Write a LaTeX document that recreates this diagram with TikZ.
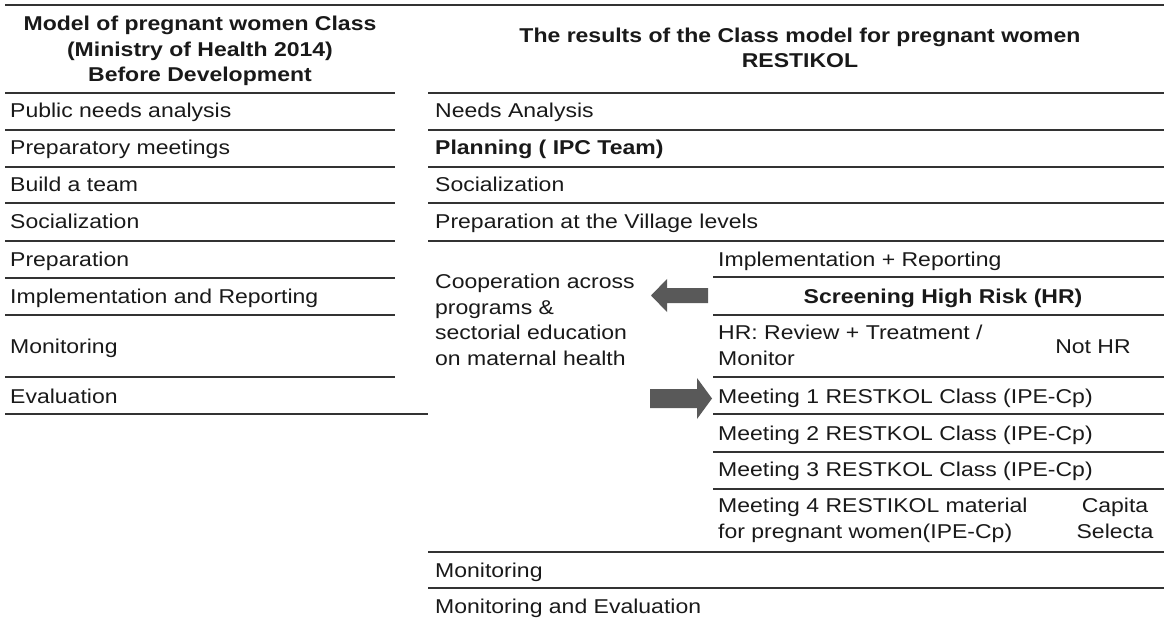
\documentclass[tikz,border=0pt]{standalone}
\usepackage{fontspec}
\setmainfont{Liberation Sans}[FakeStretch=1.15]
\usepackage{tikz}
\usetikzlibrary{positioning}

\tikzset{
  cell/.style={anchor=base west, inner sep=0pt, font=\fontsize{20}{25.5}\selectfont, text=black!90},
  mid/.style={cell, anchor=base, align=center},
  head/.style={mid, font=\fontsize{20}{25.5}\selectfont\bfseries},
  rule/.style={line width=1.6pt, black!80},
  fatarrow/.style={fill=black!65},
}

\begin{document}
\begin{tikzpicture}[x=1pt, y=-1pt]
    \useasboundingbox (0,0) rectangle (1164,620);
    % rules
    \draw[rule] (5,5) -- (1164,5);
    \foreach \y in {93,130,167,203,241,278,315,377}
        \draw[rule] (5,\y) -- (395,\y);
    \draw[rule] (5,414) -- (428,414);
    \foreach \y in {93,130,167,203,241,552,588}
        \draw[rule] (428,\y) -- (1164,\y);
    \foreach \y in {277,315,377,414,452,489}
        \draw[rule] (713,\y) -- (1164,\y);
    % headers (multi-line nodes sit on their last line)
    \node[head] (hbefore) at (200,82) {Model of pregnant women Class\\(Ministry of Health 2014)\\Before Development};
    \node[head] (hafter) at (800,68) {The results of the Class model for pregnant women\\RESTIKOL};
    % before development
    \node[cell] (old1) at (10,118) {Public needs analysis};
    \node[cell] (old2) at (10,155) {Preparatory meetings};
    \node[cell] (old3) at (10,192) {Build a team};
    \node[cell] (old4) at (10,229) {Socialization};
    \node[cell] (old5) at (10,266) {Preparation};
    \node[cell] (old6) at (10,303) {Implementation and Reporting};
    \node[cell] (old7) at (10,353) {Monitoring};
    \node[cell] (old8) at (10,403) {Evaluation};
    % restikol
    \node[cell] (new1) at (435,118) {Needs Analysis};
    \node[cell, font=\fontsize{20}{25.5}\selectfont\bfseries] (new2) at (435,155) {Planning ( IPC Team)};
    \node[cell] (new3) at (435,192) {Socialization};
    \node[cell] (new4) at (435,229) {Preparation at the Village levels};
    \node[cell, align=left] (coop) at (435,365) {Cooperation across\\programs \&\\sectorial education\\on maternal health};
    \node[cell] (impl) at (718,266) {Implementation + Reporting};
    \node[head] (screen) at (943,303) {Screening High Risk (HR)};
    \node[cell, align=left] (hr) at (718,365) {HR: Review + Treatment /\\Monitor};
    \node[mid] (nothr) at (1093,353) {Not HR};
    \node[cell] (meet1) at (718,403) {Meeting 1 RESTKOL Class (IPE-Cp)};
    \node[cell] (meet2) at (718,440) {Meeting 2 RESTKOL Class (IPE-Cp)};
    \node[cell] (meet3) at (718,476) {Meeting 3 RESTKOL Class (IPE-Cp)};
    \node[cell, align=left] (meet4) at (718,538) {Meeting 4 RESTIKOL material\\for pregnant women(IPE-Cp)};
    \node[mid] (capita) at (1115,538) {Capita\\Selecta};
    \node[cell] (new5) at (435,577) {Monitoring};
    \node[cell] (new6) at (435,613) {Monitoring and Evaluation};
    % block arrows
    \fill[fatarrow] (708,288) -- (667,288) -- (667,279) -- (651,295.5) -- (667,312) -- (667,303) -- (708,303) -- cycle;
    \fill[fatarrow] (650,389) -- (697,389) -- (697,378) -- (712,398.5) -- (697,419) -- (697,408) -- (650,408) -- cycle;
\end{tikzpicture}
\end{document}
